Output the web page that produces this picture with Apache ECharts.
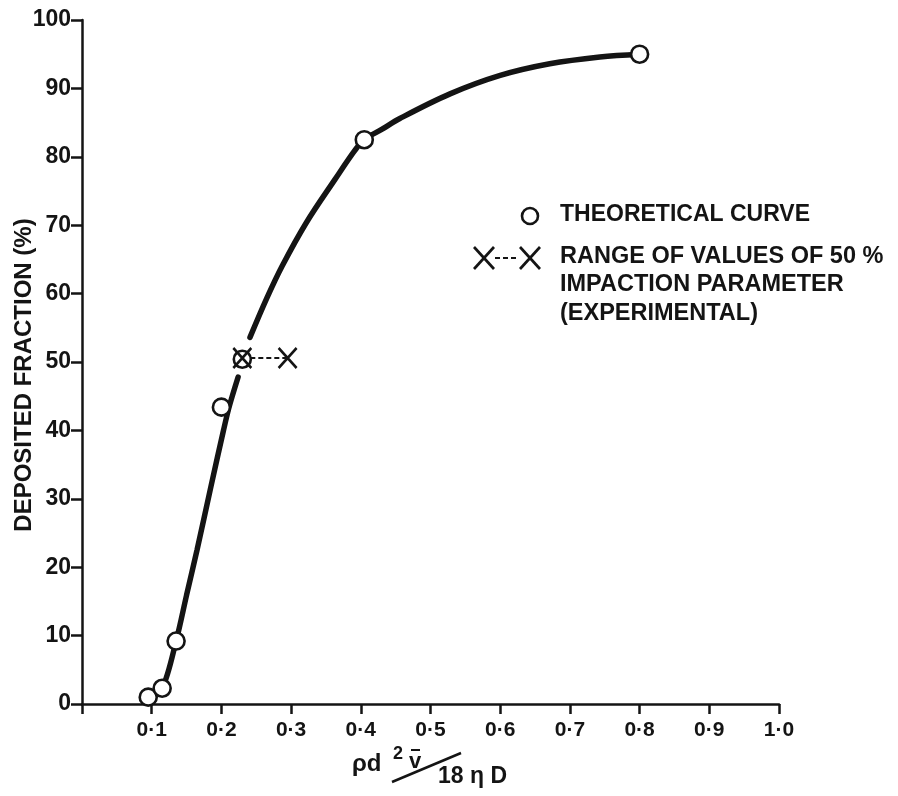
<!DOCTYPE html>
<html>
<head>
<meta charset="utf-8">
<title>Deposited fraction vs impaction parameter</title>
<script src="https://cdn.jsdelivr.net/npm/echarts@6/dist/echarts.min.js"></script>
<style>
  html, body { margin: 0; padding: 0; background: #ffffff; }
  #chart { width: 898px; height: 796px; }
</style>
</head>
<body>
<div id="chart"></div>
<script>
// Impaction parameter (x) against deposited fraction in percent (y)
const xTicks = [0, 0.1, 0.2, 0.3, 0.4, 0.5, 0.6, 0.7, 0.8, 0.9, 1.0];
const yTicks = [0, 10, 20, 30, 40, 50, 60, 70, 80, 90, 100];

// Theoretical curve, drawn in two pieces that stop short of the 50 % crossing
const curveLower = [
  [0.095, 1.0], [0.115, 2.3], [0.135, 9.2], [0.150, 15.9], [0.165, 22.5],
  [0.185, 31.8], [0.203, 40.0], [0.211, 43.4], [0.224, 47.8]
];
const curveUpper = [
  [0.241, 53.6], [0.265, 59.3], [0.287, 64.0], [0.322, 70.4], [0.363, 76.7],
  [0.392, 81.0], [0.405, 82.5], [0.430, 84.0], [0.456, 85.6], [0.528, 89.2],
  [0.600, 91.9], [0.671, 93.6], [0.743, 94.6], [0.800, 95.0]
];

// Theoretical points (open circles)
const theoryPoints = [
  [0.095, 1.0], [0.115, 2.3], [0.135, 9.2], [0.200, 43.4],
  [0.230, 50.4], [0.405, 82.5], [0.800, 95.0]
];

// Experimental range of the 50 % impaction parameter
const rangePoints = [[0.230, 50.6], [0.295, 50.6]];

const INK = '#141414';
const FONT = 'Liberation Sans';
const crossPath = 'path://M0,0L20,22M20,0L0,22';

const chart = echarts.init(document.getElementById('chart'), null, { renderer: 'canvas' });

function fmtX(v) {
  if (Math.abs(v) < 1e-9) return '';
  return v.toFixed(1).replace('.', '\u00b7');
}

const option = {
  backgroundColor: '#ffffff',
  animation: false,
  grid: {
    left: 82, top: 20, width: 697, height: 684,
    containLabel: false, outerBoundsMode: 'none'
  },
  xAxis: {
    type: 'value',
    min: xTicks[0],
    max: xTicks[xTicks.length - 1],
    interval: 0.1,
    axisLine: { show: true, onZero: false, lineStyle: { color: INK, width: 2.5 } },
    axisTick: { show: true, length: 10, lineStyle: { color: INK, width: 2.5 } },
    splitLine: { show: false },
    axisLabel: {
      margin: 16, color: INK, fontFamily: FONT, fontWeight: 'bold', fontSize: 21,
      formatter: fmtX
    }
  },
  yAxis: {
    type: 'value',
    min: yTicks[0],
    max: yTicks[yTicks.length - 1],
    interval: 10,
    name: 'DEPOSITED FRACTION (%)',
    nameLocation: 'middle',
    nameGap: 46,
    nameMoveOverlap: false,
    nameTextStyle: {
      color: INK, fontFamily: FONT, fontWeight: 'bold', fontSize: 24,
      padding: [0, 26, 0, 0]
    },
    axisLine: { show: true, onZero: false, lineStyle: { color: INK, width: 2.5 } },
    axisTick: { show: true, length: 11, lineStyle: { color: INK, width: 2.5 } },
    splitLine: { show: false },
    axisLabel: {
      margin: 11, color: INK, fontFamily: FONT, fontWeight: 'bold', fontSize: 23
    }
  },
  series: [
    {
      name: 'THEORETICAL CURVE',
      type: 'line',
      data: curveLower,
      smooth: 0.3,
      showSymbol: false,
      symbol: 'none',
      lineStyle: { color: INK, width: 5.5, cap: 'round' },
      z: 2
    },
    {
      name: 'THEORETICAL CURVE',
      type: 'line',
      data: curveUpper,
      smooth: 0.35,
      showSymbol: false,
      symbol: 'none',
      lineStyle: { color: INK, width: 5.5, cap: 'round' },
      z: 2
    },
    {
      name: 'RANGE OF VALUES OF 50 % IMPACTION PARAMETER (EXPERIMENTAL)',
      type: 'line',
      data: rangePoints,
      showSymbol: false,
      symbol: 'none',
      lineStyle: { color: INK, width: 2, type: [5, 3] },
      z: 2
    },
    {
      name: 'THEORETICAL POINTS',
      type: 'scatter',
      data: theoryPoints,
      symbol: 'circle',
      symbolSize: 17,
      itemStyle: { color: '#ffffff', borderColor: INK, borderWidth: 2.6, opacity: 1 },
      z: 3
    },
    {
      name: 'EXPERIMENTAL RANGE',
      type: 'scatter',
      data: rangePoints,
      symbol: crossPath,
      symbolSize: [18, 20],
      itemStyle: { color: INK, borderColor: INK, borderWidth: 2.7, opacity: 1 },
      z: 4
    }
  ],
  graphic: [
    // Legend: open circle
    {
      type: 'circle', shape: { cx: 530, cy: 216, r: 8 },
      style: { fill: '#ffffff', stroke: INK, lineWidth: 2.6 }
    },
    {
      type: 'text', left: 560, top: 203,
      style: { text: 'THEORETICAL CURVE', fill: INK, font: 'bold 23px "Liberation Sans"' }
    },
    // Legend: cross, dashes, cross
    {
      type: 'polyline', shape: { points: [[474, 247], [494, 269]] },
      style: { stroke: INK, lineWidth: 2.7 }
    },
    {
      type: 'polyline', shape: { points: [[494, 247], [474, 269]] },
      style: { stroke: INK, lineWidth: 2.7 }
    },
    {
      type: 'line', shape: { x1: 495, y1: 258, x2: 519, y2: 258 },
      style: { stroke: INK, lineWidth: 2, lineDash: [5, 3] }
    },
    {
      type: 'polyline', shape: { points: [[520, 247], [540, 269]] },
      style: { stroke: INK, lineWidth: 2.7 }
    },
    {
      type: 'polyline', shape: { points: [[540, 247], [520, 269]] },
      style: { stroke: INK, lineWidth: 2.7 }
    },
    {
      type: 'text', left: 560, top: 245,
      style: { text: 'RANGE OF VALUES OF 50 %', fill: INK, font: 'bold 23.5px "Liberation Sans"' }
    },
    {
      type: 'text', left: 560, top: 273,
      style: { text: 'IMPACTION PARAMETER', fill: INK, font: 'bold 23.5px "Liberation Sans"' }
    },
    {
      type: 'text', left: 560, top: 302,
      style: { text: '(EXPERIMENTAL)', fill: INK, font: 'bold 23.5px "Liberation Sans"' }
    },
    // x-axis title: rho d^2 v-bar over 18 eta D
    {
      type: 'text', left: 352, top: 752,
      style: { text: '\u03c1d', fill: INK, font: 'bold 24px "Liberation Sans"' }
    },
    {
      type: 'text', left: 393, top: 745,
      style: { text: '2', fill: INK, font: 'bold 18px "Liberation Sans"' }
    },
    {
      type: 'text', left: 409, top: 751,
      style: { text: 'v', fill: INK, font: 'bold 22px "Liberation Sans"' }
    },
    {
      type: 'line', shape: { x1: 411, y1: 750, x2: 420, y2: 750 },
      style: { stroke: INK, lineWidth: 2 }
    },
    {
      type: 'line', shape: { x1: 392, y1: 782, x2: 461, y2: 753 },
      style: { stroke: INK, lineWidth: 2.5 }
    },
    {
      type: 'text', left: 438, top: 765,
      style: { text: '18 \u03b7 D', fill: INK, font: 'bold 23px "Liberation Sans"' }
    }
  ]
};

chart.setOption(option);
</script>
</body>
</html>
